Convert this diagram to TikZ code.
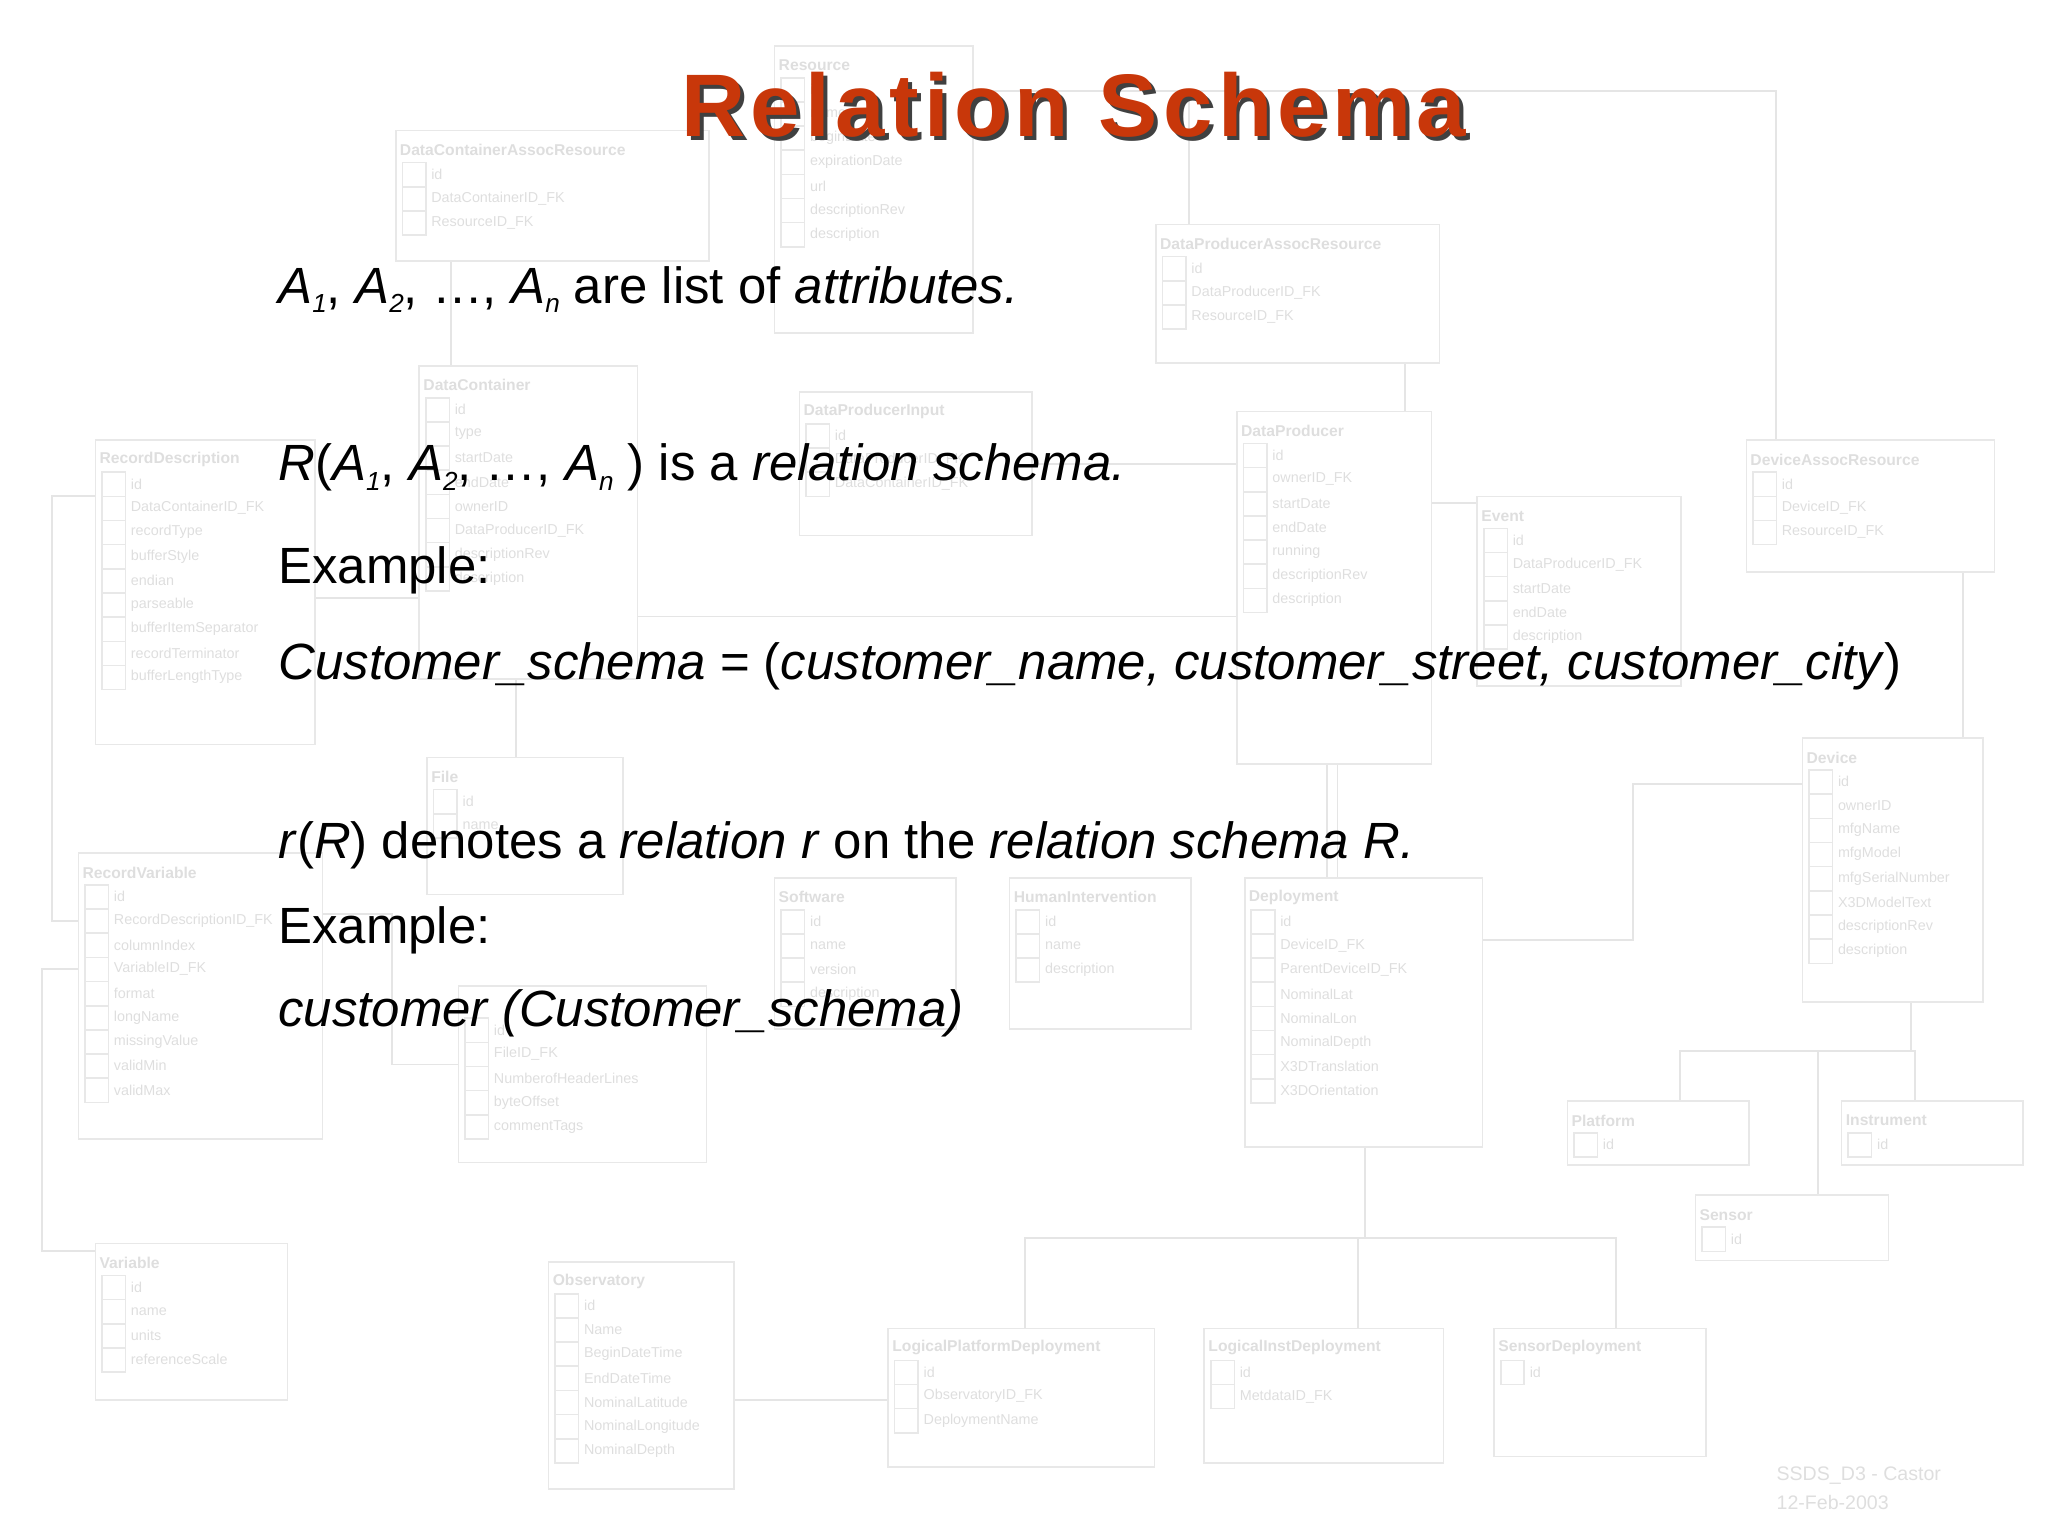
\documentclass[tikz,border=0pt]{standalone}
\usepackage{fontspec}
\setmainfont{Liberation Sans}
\newfontfamily\titlefont[LetterSpace=6]{Liberation Sans}
\begin{document}
\begin{tikzpicture}[x=1pt,y=-1pt,
 tb/.style={draw=black!9,line width=1.2pt},
 ln/.style={draw=black!10,line width=1.5pt},
 th/.style={text=black!13,font=\fontsize{12}{12}\selectfont\bfseries,inner sep=0pt},
 tf/.style={text=black!13,font=\fontsize{11}{11}\selectfont,inner sep=0pt},
 body/.style={anchor=base west,inner sep=0pt,font=\fontsize{39}{39}\selectfont}]
\useasboundingbox (0,0) rectangle (1568,1176);
\newcommand\tbl[6]{%
 \draw[tb] (#1,#2) rectangle (#3,#4);
 \node[th,anchor=west] at (#1+3,#2+15) {#5};
 \foreach \f [count=\i] in {#6} {%
  \node[tf,anchor=west] at (#1+27,#2+15+18.5*\i) {\f};
  \draw[tb] (#1+5,#2+6+18.5*\i) rectangle (#1+23,#2+24.5+18.5*\i);}%
}
% connectors
\draw[ln] (745,70) -- (1360,70) -- (1360,337);
\draw[ln] (910,70) -- (910,172);
\draw[ln] (345,200) -- (345,280);
\draw[ln] (1076,278) -- (1076,315);
\draw[ln] (488,472) -- (947,472);
\draw[ln] (790,355) -- (947,355);
\draw[ln] (1096,385) -- (1131,385);
\draw[ln] (1503,438) -- (1503,565);
\draw[ln] (1016,585) -- (1016,672);
\draw[ln] (1024,585) -- (1024,672);
\draw[ln] (1135,720) -- (1250,720) -- (1250,600) -- (1380,600);
\draw[ln] (1463,767) -- (1463,805);
\draw[ln] (1286,843) -- (1286,805) -- (1466,805) -- (1466,843);
\draw[ln] (1392,805) -- (1392,915);
\draw[ln] (1045,878) -- (1045,948);
\draw[ln] (785,1017) -- (785,948) -- (1237,948) -- (1237,1017);
\draw[ln] (1040,948) -- (1040,1017);
\draw[ln] (562,1072) -- (680,1072);
\draw[ln] (73,380) -- (40,380) -- (40,705) -- (60,705);
\draw[ln] (60,742) -- (32,742) -- (32,958) -- (73,958);
\draw[ln] (241,458) -- (321,458);
\draw[ln] (395,520) -- (395,580);
\draw[ln] (247,700) -- (300,700) -- (300,815) -- (351,815);
% tables
\tbl{593}{35}{745}{255}{Resource}{id,name,beginDate,expirationDate,url,descriptionRev,description}
\tbl{303}{100}{543}{200}{DataContainerAssocResource}{id,DataContainerID\_FK,ResourceID\_FK}
\tbl{885}{172}{1102}{278}{DataProducerAssocResource}{id,DataProducerID\_FK,ResourceID\_FK}
\tbl{321}{280}{488}{520}{DataContainer}{id,type,startDate,endDate,ownerID,DataProducerID\_FK,descriptionRev,description}
\tbl{612}{300}{790}{410}{DataProducerInput}{id,DataProducerID\_FK,DataContainerID\_FK}
\tbl{73}{337}{241}{570}{RecordDescription}{id,DataContainerID\_FK,recordType,bufferStyle,endian,parseable,bufferItemSeparator,recordTerminator,bufferLengthType}
\tbl{947}{315}{1096}{585}{DataProducer}{id,ownerID\_FK,startDate,endDate,running,descriptionRev,description}
\tbl{1131}{380}{1287}{525}{Event}{id,DataProducerID\_FK,startDate,endDate,description}
\tbl{1337}{337}{1527}{438}{DeviceAssocResource}{id,DeviceID\_FK,ResourceID\_FK}
\tbl{1380}{565}{1518}{767}{Device}{id,ownerID,mfgName,mfgModel,mfgSerialNumber,X3DModelText,descriptionRev,description}
\tbl{327}{580}{477}{685}{File}{id,name}
\tbl{60}{653}{247}{872}{RecordVariable}{id,RecordDescriptionID\_FK,columnIndex,VariableID\_FK,format,longName,missingValue,validMin,validMax}
\tbl{593}{672}{732}{788}{Software}{id,name,version,description}
\tbl{773}{672}{912}{788}{HumanIntervention}{id,name,description}
\tbl{953}{672}{1135}{878}{Deployment}{id,DeviceID\_FK,ParentDeviceID\_FK,NominalLat,NominalLon,NominalDepth,X3DTranslation,X3DOrientation}
\tbl{351}{755}{541}{890}{}{id,FileID\_FK,NumberofHeaderLines,byteOffset,commentTags}
\tbl{1200}{843}{1339}{892}{Platform}{id}
\tbl{1410}{843}{1549}{892}{Instrument}{id}
\tbl{1298}{915}{1446}{965}{Sensor}{id}
\tbl{73}{952}{220}{1072}{Variable}{id,name,units,referenceScale}
\tbl{420}{966}{562}{1140}{Observatory}{id,Name,BeginDateTime,EndDateTime,NominalLatitude,NominalLongitude,NominalDepth}
\tbl{680}{1017}{884}{1123}{LogicalPlatformDeployment}{id,ObservatoryID\_FK,DeploymentName}
\tbl{922}{1017}{1105}{1120}{LogicalInstDeployment}{id,MetdataID\_FK}
\tbl{1144}{1017}{1306}{1115}{SensorDeployment}{id}
\node[tf,anchor=west,font=\fontsize{15}{15}\selectfont] (foot1) at (1360,1130) {SSDS\_D3 - Castor};
\node[tf,anchor=west,font=\fontsize{15}{15}\selectfont] (foot2) at (1360,1150) {12-Feb-2003};
% title
\node[font=\fontsize{68}{68}\titlefont\bfseries,text=black!75,inner sep=0pt] (tsh) at (825,83) {Relation Schema};
\node[font=\fontsize{68}{68}\titlefont\bfseries,text={rgb,255:red,200;green,55;blue,10},inner sep=0pt] (title) at (822,80) {Relation Schema};
% body
\newcommand\sbn[1]{\raisebox{-0.35ex}{\fontsize{20}{20}\selectfont\itshape #1}}
\node[body] (l1) at (213,232) {\textit{A}\sbn{1}, \textit{A}\sbn{2}, \dots, \textit{A}\sbn{n} are list of \textit{attributes.}};
\node[body] (l2) at (213,368) {\textit{R}(\textit{A}\sbn{1}, \textit{A}\sbn{2}, \dots, \textit{A}\sbn{n} ) is a \textit{relation schema.}};
\node[body] (l3) at (213,447) {Example:};
\node[body] (l4) at (213,520) {\textit{Customer\_schema} = (\textit{customer\_name, customer\_street, customer\_city})};
\node[body] (l5) at (213,657) {\textit{r}(\textit{R}) denotes a \textit{relation r} on the \textit{relation schema R.}};
\node[body] (l6) at (213,722) {Example:};
\node[body] (l7) at (213,786) {\textit{customer (Customer\_schema)}};
\end{tikzpicture}
\end{document}
